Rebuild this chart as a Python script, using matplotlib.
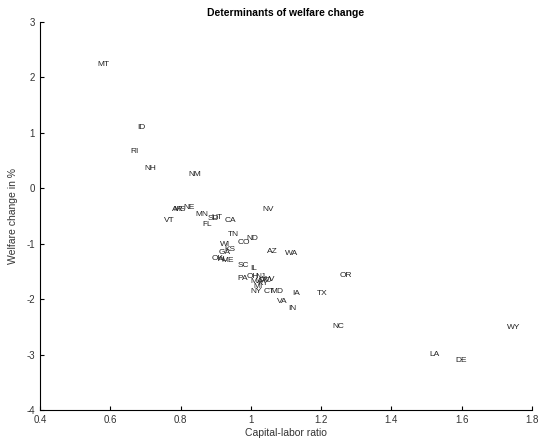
import numpy as np
import matplotlib
matplotlib.use("Agg")
import matplotlib.pyplot as plt

plt.rcParams['font.family'] = ['Liberation Sans', 'DejaVu Sans']
plt.rcParams['axes.unicode_minus'] = False

# state labels, capital-labor ratio, welfare change (%)
states = ['MT', 'ID', 'RI', 'NH', 'NM', 'AR', 'MS', 'NE', 'VT', 'MN',
          'SD', 'UT', 'FL', 'CA', 'NV', 'TN', 'ND', 'CO', 'WI', 'KS',
          'GA', 'AZ', 'WA', 'OK', 'AL', 'ME', 'SC', 'IL', 'PA', 'OH',
          'NJ', 'MA', 'WV', 'MO', 'KY', 'MI', 'NY', 'CT', 'MD', 'IA',
          'VA', 'IN', 'TX', 'OR', 'NC', 'WY', 'LA', 'DE']
cap_labor = [0.562, 0.676, 0.656, 0.696, 0.821, 0.776, 0.779, 0.807, 0.753, 0.841,
             0.878, 0.889, 0.861, 0.924, 1.032, 0.935, 0.986, 0.961, 0.912, 0.924,
             0.909, 1.046, 1.097, 0.889, 0.906, 0.915, 0.961, 0.998, 0.961, 0.989,
             1.012, 0.998, 1.032, 1.020, 1.018, 1.006, 0.998, 1.037, 1.055, 1.118,
             1.073, 1.107, 1.187, 1.254, 1.233, 1.728, 1.508, 1.581]
welfare = [2.24, 1.105, 0.67, 0.365, 0.256, -0.375, -0.38, -0.34, -0.59, -0.48,
           -0.54, -0.52, -0.646, -0.59, -0.375, -0.83, -0.90, -0.97, -1.01, -1.10,
           -1.15, -1.14, -1.175, -1.26, -1.28, -1.30, -1.40, -1.44, -1.62, -1.60,
           -1.60, -1.69, -1.64, -1.67, -1.71, -1.78, -1.87, -1.86, -1.87, -1.89,
           -2.04, -2.16, -1.89, -1.57, -2.49, -2.51, -2.99, -3.10]

fig = plt.figure(figsize=(5.39, 4.46), dpi=100)
ax = fig.add_axes([0.0742, 0.0807, 0.9128, 0.87])

for s, x, y in zip(states, cap_labor, welfare):
    ax.text(x, y, s, fontsize=6, ha='left', va='center', color='#222222')

ax.set_xlim(0.4, 1.8)
ax.set_ylim(-4, 3)
ax.set_xticks(np.arange(0.4, 1.81, 0.2))
ax.set_xticklabels(['0.4', '0.6', '0.8', '1', '1.2', '1.4', '1.6', '1.8'])
ax.set_yticks(range(-4, 4))
ax.spines['top'].set_visible(False)
ax.spines['right'].set_visible(False)
ax.spines['left'].set_linewidth(0.8)
ax.spines['bottom'].set_linewidth(0.8)
ax.tick_params(direction='in', length=3, width=0.8, labelsize=7,
               labelcolor='#333333')
ax.set_xlabel('Capital-labor ratio', fontsize=7.5, color='#333333', labelpad=2)
ax.set_ylabel('Welfare change in %', fontsize=7.5, color='#333333', labelpad=6)
ax.set_title('Determinants of welfare change', fontsize=7.5, fontweight='bold',
             pad=4)

fig.savefig('out.png', dpi=100)
